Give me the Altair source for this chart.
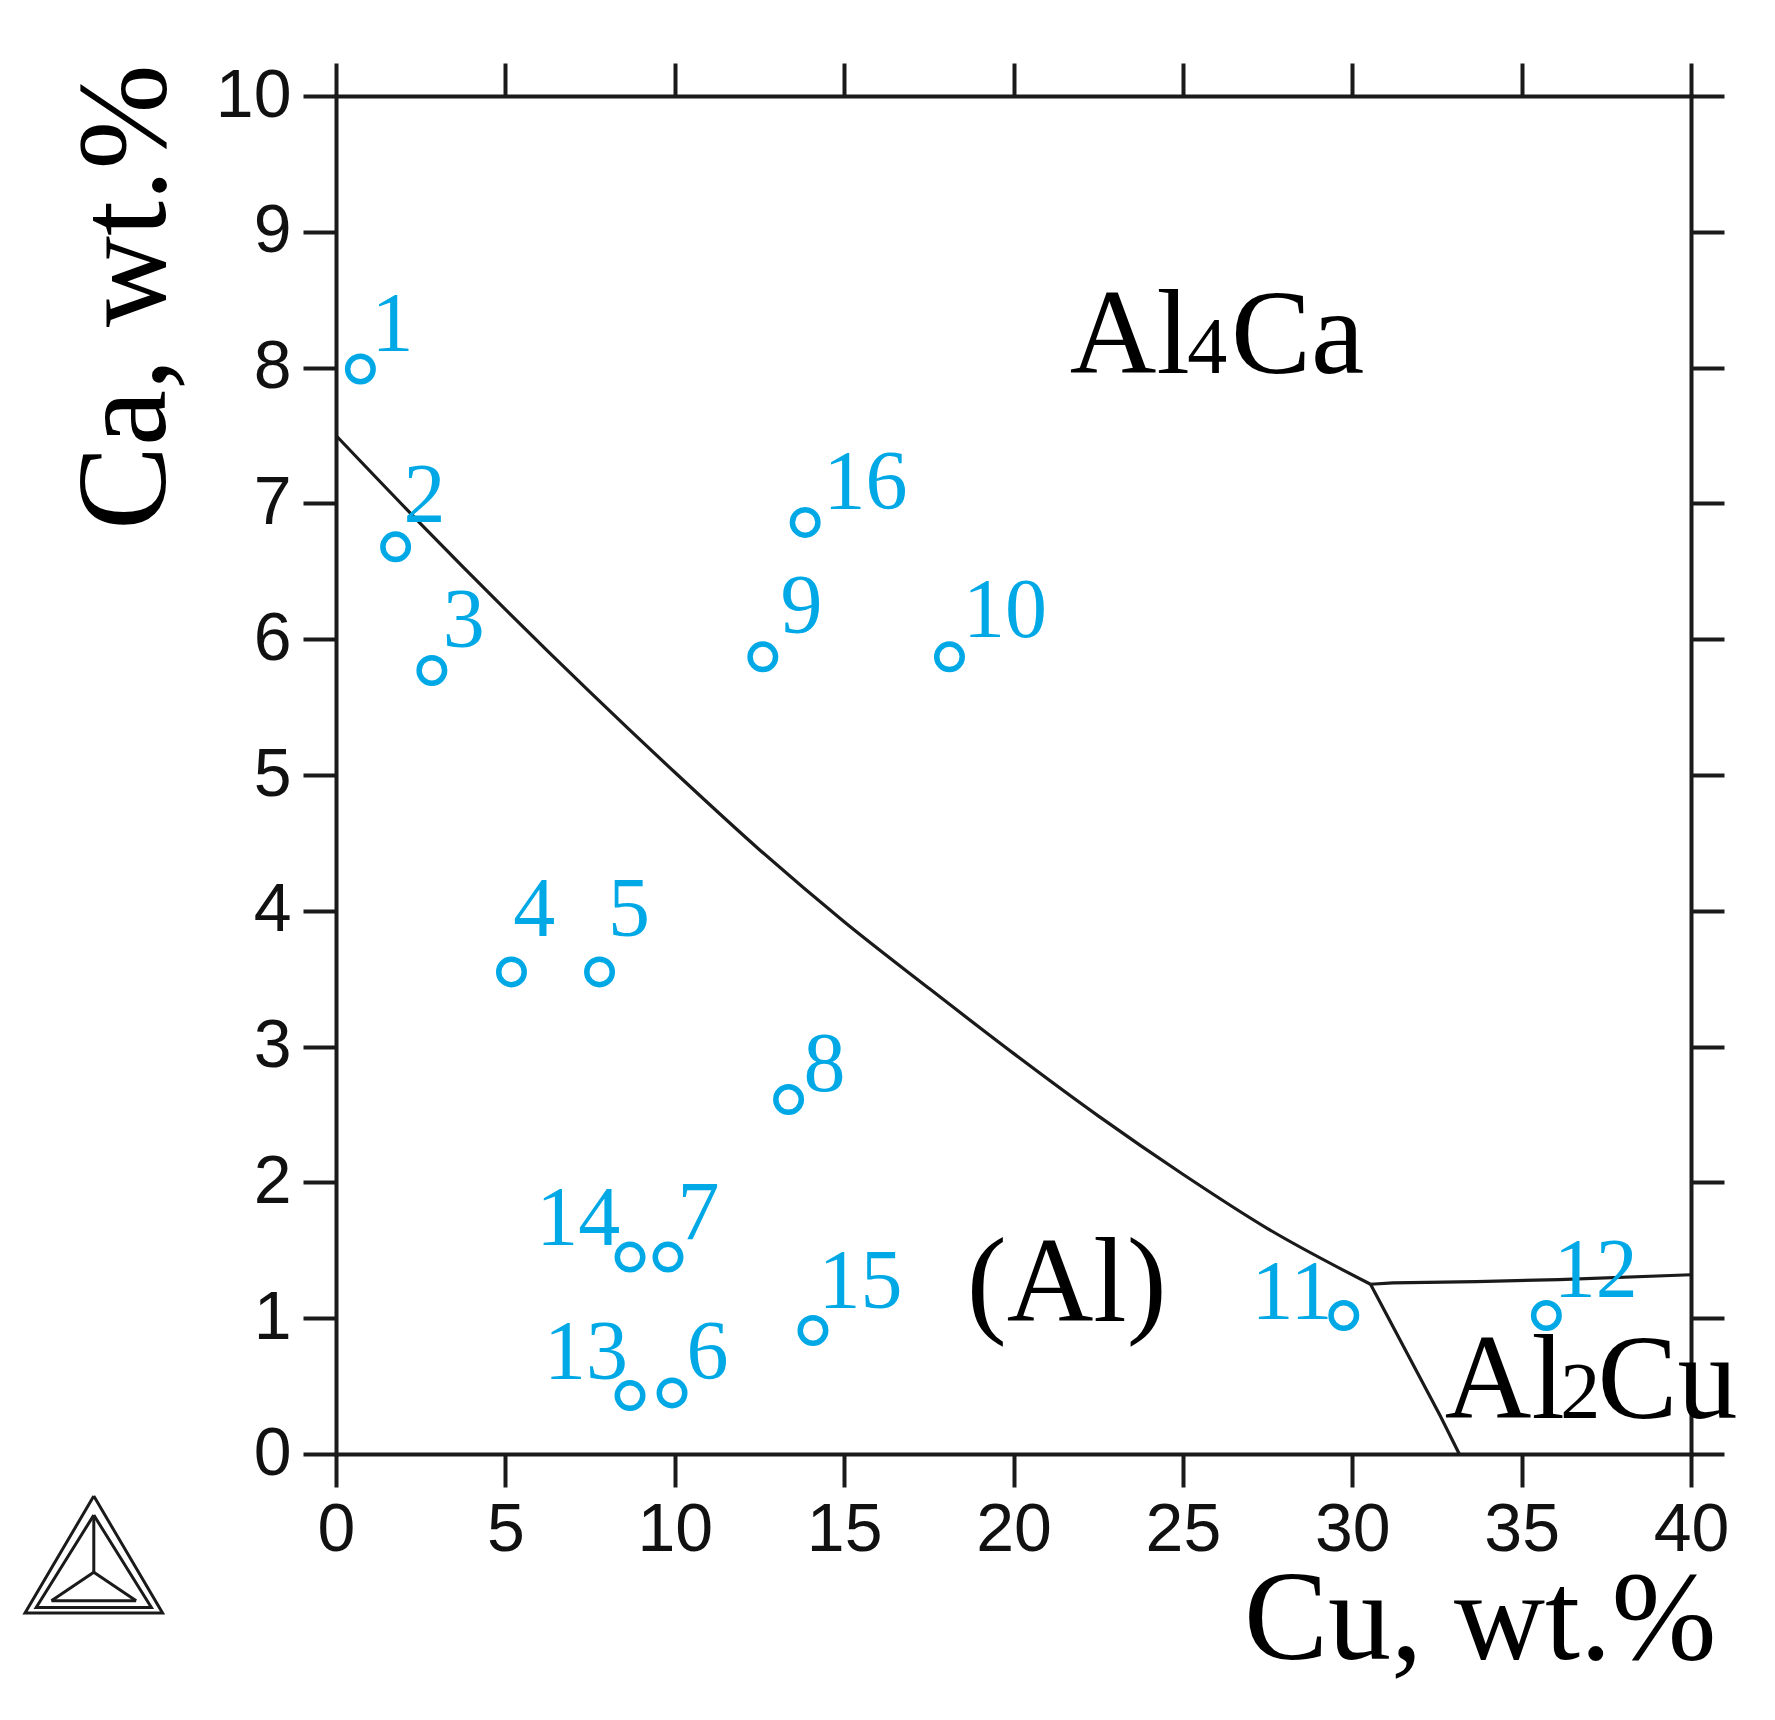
import altair as alt
import pandas as pd

# ---------------- data ----------------
sample_ids = ["1", "2", "3", "4", "5", "6", "7", "8", "9", "10",
              "11", "12", "13", "14", "15", "16"]
cu = [0.72, 1.76, 2.83, 5.18, 7.78, 9.92, 9.80, 13.36, 12.60, 18.11,
      29.75, 35.73, 8.68, 8.68, 14.08, 13.85]
ca = [7.99, 6.68, 5.77, 3.55, 3.55, 0.45, 1.45, 2.61, 5.87, 5.87,
      1.02, 1.02, 0.43, 1.45, 0.91, 6.86]
label_cu = [1.67, 2.61, 3.77, 5.85, 8.65, 10.97, 10.70, 14.42, 13.74, 19.75,
            28.22, 37.19, 7.38, 7.15, 15.48, 15.63]
label_ca = [8.31, 7.05, 6.13, 4.00, 4.00, 0.74, 1.76, 2.86, 6.23, 6.20,
            1.18, 1.34, 0.74, 1.72, 1.26, 7.14]

# liquidus boundary (Al)/Al4Ca (smooth)
curve_cu = [0.0, 2.5, 5.0, 7.5, 10.0, 12.5, 15.0, 17.5, 20.0, 22.5,
            25.0, 27.5, 30.54]
curve_ca = [7.50, 6.85, 6.22, 5.61, 5.02, 4.45, 3.92, 3.43, 2.95, 2.49,
            2.06, 1.66, 1.25]
# (Al)/Al2Cu boundary (straight)
leg_cu = [30.54, 32.60, 33.16]
leg_ca = [1.25, 0.28, 0.0]
# Al4Ca / Al2Cu boundary
edge_cu = [30.54, 31.20, 33.66, 36.10, 40.0]
edge_ca = [1.25, 1.26, 1.27, 1.284, 1.32]

# phase names (words and their stoichiometric digits)
word_text = ["Al", "Ca", "(Al)", "Al", "Cu"]
word_cu = [21.66, 26.42, 18.62, 32.73, 37.24]
word_ca = [7.96, 7.96, 0.98, 0.263, 0.263]
digit_text = ["4", "2"]
digit_cu = [25.13, 36.14]
digit_ca = [7.96, 0.263]

# tick values
x_ticks = [0, 5, 10, 15, 20, 25, 30, 35, 40]
y_ticks = [0, 1, 2, 3, 4, 5, 6, 7, 8, 9, 10]

# Thermo-Calc logo (triangle) outline, in axis units below the plot
logo_seg = ["o", "o", "o", "o", "i", "i", "i", "i", "s1", "s1", "s2", "s2",
            "s3", "s3", "b", "b"]
logo_cu = [-7.15, -9.18, -5.12, -7.15, -7.15, -8.85, -5.45, -7.15,
           -7.15, -7.15, -7.15, -8.40, -7.15, -5.90, -8.40, -5.90]
logo_ca = [-0.31, -1.17, -1.17, -0.31, -0.45, -1.13, -1.13, -0.45,
           -0.45, -0.87, -0.87, -1.08, -0.87, -1.08, -1.08, -1.08]

# ---------------- tables ----------------
pts = pd.DataFrame({"id": sample_ids, "cu": cu, "ca": ca,
                    "lcu": label_cu, "lca": label_ca})
smooth = pd.DataFrame({"cu": curve_cu, "ca": curve_ca,
                       "ord": list(range(len(curve_cu)))})
straight = pd.DataFrame({
    "seg": ["leg"] * len(leg_cu) + ["edge"] * len(edge_cu),
    "cu": leg_cu + edge_cu,
    "ca": leg_ca + edge_ca,
    "ord": list(range(len(leg_cu))) + list(range(len(edge_cu))),
})
words = pd.DataFrame({"t": word_text, "cu": word_cu, "ca": word_ca})
digits = pd.DataFrame({"t": digit_text, "cu": digit_cu, "ca": digit_ca})
logo = pd.DataFrame({"seg": logo_seg, "cu": logo_cu, "ca": logo_ca,
                     "ord": list(range(len(logo_cu)))})

# ---------------- styling ----------------
INK = "#1a1a1a"
CYAN = "#00A9E6"
SANS = "Liberation Sans"
SERIF = "Liberation Serif"

xscale = alt.Scale(domain=[0, 40], nice=False, zero=False)
yscale = alt.Scale(domain=[0, 10], nice=False, zero=False)

common = dict(domainColor=INK, domainWidth=4, tickColor=INK, tickWidth=4,
              tickSize=33, grid=False, domainCap="square")

ax_bottom = alt.Axis(orient="bottom", values=x_ticks, labelFont=SANS,
                     labelFontSize=68, labelColor="#111", labelPadding=9,
                     labelFlush=False, labelOverlap=False,
                     title="Cu, wt.%", titleFont=SERIF, titleFontSize=126,
                     titleFontWeight="normal", titleColor="#000",
                     titleX=1380, titleY=204, titleAlign="right",
                     titleBaseline="alphabetic", **common)
ax_left = alt.Axis(orient="left", values=y_ticks, labelFont=SANS,
                   labelFontSize=68, labelColor="#111", labelPadding=12,
                   labelFlush=False, labelOverlap=False,
                   title="Ca, wt.%", titleFont=SERIF, titleFontSize=126,
                   titleFontWeight="normal", titleColor="#000",
                   titleAngle=270, titleX=-172, titleY=-32,
                   titleAlign="right", titleBaseline="alphabetic", **common)
ax_top = alt.Axis(orient="top", values=x_ticks, labels=False, title=None,
                  **common)
ax_right = alt.Axis(orient="right", values=y_ticks, labels=False, title=None,
                    **common)

curve_layer = alt.Chart(smooth).mark_line(color=INK, strokeWidth=3.2,
                                          interpolate="monotone").encode(
    x=alt.X("cu:Q", scale=xscale, axis=ax_top),
    y=alt.Y("ca:Q", scale=yscale, axis=ax_right),
    order="ord:Q",
)

straight_layer = alt.Chart(straight).mark_line(color=INK,
                                               strokeWidth=3.2).encode(
    x=alt.X("cu:Q", scale=xscale, axis=None),
    y=alt.Y("ca:Q", scale=yscale, axis=None),
    detail="seg:N",
    order="ord:Q",
)

logo_layer = alt.Chart(logo).mark_line(color=INK, strokeWidth=3).encode(
    x=alt.X("cu:Q", scale=xscale, axis=None),
    y=alt.Y("ca:Q", scale=yscale, axis=None),
    detail="seg:N",
    order="ord:Q",
)

points = alt.Chart(pts).mark_point(shape="circle", filled=False, size=650,
                                   strokeWidth=5.5, color=CYAN,
                                   opacity=1).encode(
    x=alt.X("cu:Q", scale=xscale, axis=ax_bottom),
    y=alt.Y("ca:Q", scale=yscale, axis=ax_left),
)

labels = alt.Chart(pts).mark_text(font=SERIF, fontSize=84, color=CYAN,
                                  align="center", baseline="middle").encode(
    x=alt.X("lcu:Q", scale=xscale, axis=None),
    y=alt.Y("lca:Q", scale=yscale, axis=None),
    text="id:N",
)

word_layer = alt.Chart(words).mark_text(font=SERIF, fontSize=120,
                                        color="#000", align="left",
                                        baseline="alphabetic").encode(
    x=alt.X("cu:Q", scale=xscale, axis=None),
    y=alt.Y("ca:Q", scale=yscale, axis=None),
    text="t:N",
)

digit_layer = alt.Chart(digits).mark_text(font=SERIF, fontSize=80,
                                          color="#000", align="left",
                                          baseline="alphabetic").encode(
    x=alt.X("cu:Q", scale=xscale, axis=None),
    y=alt.Y("ca:Q", scale=yscale, axis=None),
    text="t:N",
)

chart = alt.layer(
    logo_layer, curve_layer, straight_layer, points, labels, word_layer,
    digit_layer
).resolve_axis(
    x="independent", y="independent"
).properties(
    width=1355, height=1358,
    autosize=alt.AutoSizeParams(type="none"),
    padding={"left": 328, "top": 88, "right": 60, "bottom": 250},
    background="white",
).configure_view(strokeWidth=0)

chart.save("out.html", embed_options={"renderer": "svg", "actions": False})
